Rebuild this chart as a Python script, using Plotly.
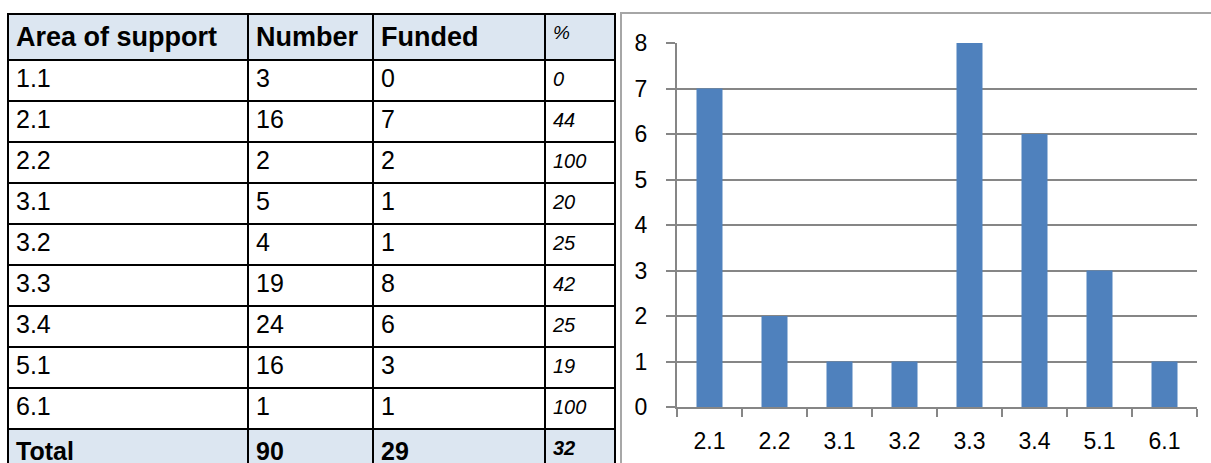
import plotly.graph_objects as go

# ---- data ----
areas = ["1.1", "2.1", "2.2", "3.1", "3.2", "3.3", "3.4", "5.1", "6.1"]
number = [3, 16, 2, 5, 4, 19, 24, 16, 1]
funded = [0, 7, 2, 1, 1, 8, 6, 3, 1]
pct = [0, 44, 100, 20, 25, 42, 25, 19, 100]
total_label = "Total"
total_number = 90
total_funded = 29
total_pct = 32
headers = ["Area of support", "Number", "Funded", "%"]

chart_cats = [a for a, f in zip(areas, funded) if f > 0]
chart_vals = [f for f in funded if f > 0]

W, H = 1211, 463
def px(x):
    return x / W
def py(y):
    return 1 - y / H

FONT = "Liberation Sans, Arial, sans-serif"
HEAD_BG = "#DCE6F1"

col1 = areas + [f"<b>{total_label}</b>"]
col2 = [str(v) for v in number] + [f"<b>{total_number}</b>"]
col3 = [str(v) for v in funded] + [f"<b>{total_funded}</b>"]
col4 = [f"<i>{v}</i>" for v in pct] + [f"<b><i>{total_pct}</i></b>"]
nrows = len(col1)
fills = [["white"] * (nrows - 1) + [HEAD_BG] for _ in range(4)]

fig = go.Figure()

fig.add_trace(go.Table(
    domain=dict(x=[px(8), px(615)], y=[0, py(14)]),
    columnwidth=[240, 125, 172, 70],
    header=dict(
        values=[f"<b>{h}</b>" if h != "%" else f"<i>{h}</i>" for h in headers],
        fill_color=HEAD_BG,
        line=dict(color="black", width=2),
        align="left",
        height=41,
        font=dict(family=FONT, size=[27, 27, 27, 19], color="black"),
    ),
    cells=dict(
        values=[col1, col2, col3, col4],
        fill_color=fills,
        line=dict(color="black", width=2),
        align="left",
        height=41,
        font=dict(family=FONT, size=[25, 25, 25, 20], color="black"),
    ),
))

fig.add_trace(go.Bar(
    x=chart_cats, y=chart_vals,
    marker=dict(color="#4F81BD", line=dict(width=0)),
    xaxis="x", yaxis="y",
))

fig.update_layout(
    template="none",
    width=W, height=H, autosize=False,
    margin=dict(l=0, r=0, t=0, b=0, pad=0),
    paper_bgcolor="white", plot_bgcolor="white",
    showlegend=False,
    bargap=0.6,
    xaxis=dict(
        domain=[px(677), px(1197)], anchor="y",
        type="category", automargin=False,
        showline=True, linecolor="#868686", linewidth=2,
        ticks="outside", tickson="boundaries", ticklen=8, tickwidth=2, tickcolor="#868686",
        showgrid=False, zeroline=False,
        tickfont=dict(family=FONT, size=23, color="black"),
        ticklabelstandoff=12,
    ),
    yaxis=dict(
        domain=[py(407), py(43)], anchor="x",
        range=[0, 8], dtick=1, automargin=False,
        showline=True, linecolor="#868686", linewidth=2,
        ticks="outside", ticklen=9, tickwidth=2, tickcolor="#868686",
        showgrid=True, gridcolor="#868686", gridwidth=2,
        zeroline=False,
        tickfont=dict(family=FONT, size=23, color="black"),
        ticklabelstandoff=14,
    ),
    shapes=[dict(
        type="rect", xref="paper", yref="paper",
        x0=px(621), x1=px(1230), y0=py(13), y1=py(480),
        line=dict(color="#A6A6A6", width=2), fillcolor="rgba(0,0,0,0)",
        layer="below",
    )],
)

fig.write_html(
    "out.html",
    config={"displayModeBar": False},
    post_script="document.body.style.margin='0';document.body.style.overflow='hidden';",
)
